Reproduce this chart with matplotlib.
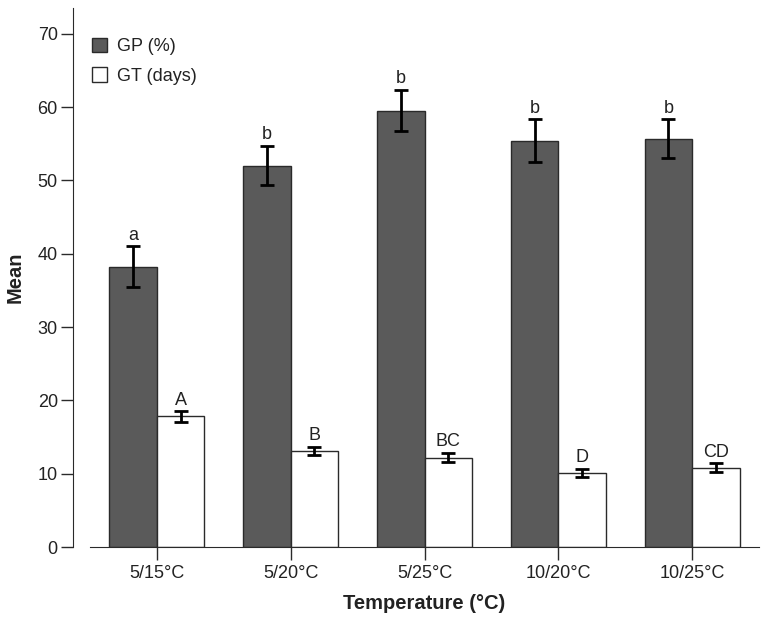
import matplotlib
matplotlib.use('Agg')
from matplotlib import pyplot as plt
from matplotlib.patches import Patch
import numpy as np

plt.rcParams['font.family'] = ['Liberation Sans', 'DejaVu Sans']

temps = ['5/15°C', '5/20°C', '5/25°C', '10/20°C', '10/25°C']
gp = [38.2, 52.0, 59.5, 55.4, 55.7]
gp_err = [2.8, 2.7, 2.8, 2.9, 2.6]
gt = [17.8, 13.1, 12.2, 10.1, 10.8]
gt_err = [0.7, 0.6, 0.6, 0.5, 0.6]
gp_letters = ['a', 'b', 'b', 'b', 'b']
gt_letters = ['A', 'B', 'BC', 'D', 'CD']

dark = '#5a5a5a'
edge = '#2a2a2a'
txt = '#222222'

fig = plt.figure(figsize=(7.67, 6.26), dpi=100)
ax = fig.add_axes([90/767, 79/626, 669/767, 539/626])

x = np.arange(len(temps))
w = 0.355
ax.bar(x - w/2, gp, w, color=dark, edgecolor=edge, linewidth=1, zorder=2)
ax.bar(x + w/2, gt, w, color='white', edgecolor=edge, linewidth=1, zorder=2)
ax.errorbar(x - w/2, gp, yerr=gp_err, fmt='none', ecolor='black',
            elinewidth=2, capsize=4.7, capthick=2, zorder=3)
ax.errorbar(x + w/2, gt, yerr=gt_err, fmt='none', ecolor='black',
            elinewidth=2, capsize=4.7, capthick=2, zorder=3)

for i in range(len(temps)):
    ax.annotate(gp_letters[i], (x[i] - w/2, gp[i] + gp_err[i]), xytext=(0, 2),
                textcoords='offset points', ha='center', va='bottom',
                fontsize=13, color=txt)
    ax.annotate(gt_letters[i], (x[i] + w/2, gt[i] + gt_err[i]), xytext=(0, 2),
                textcoords='offset points', ha='center', va='bottom',
                fontsize=13, color=txt)

ax.set_xlim(-0.5, 4.5)
ax.set_ylim(0, 73.5)
ax.set_xticks(x)
ax.set_xticklabels(temps)
ax.set_yticks(range(0, 71, 10))

for s in ['top', 'right']:
    ax.spines[s].set_visible(False)
ax.spines['left'].set_position(('outward', 12.2))
ax.spines['left'].set_color(edge)
ax.spines['bottom'].set_color(edge)
ax.tick_params(axis='both', direction='out', length=9, width=1, color=edge,
               labelsize=13, labelcolor=txt)
ax.tick_params(axis='x', pad=4)
ax.tick_params(axis='y', pad=2)

ax.set_xlabel('Temperature (°C)', fontsize=14.5, fontweight='bold', color=txt)
ax.set_ylabel('Mean', fontsize=14.5, fontweight='bold', color=txt)
ax.xaxis.set_label_coords(0.5, -0.087)
ax.yaxis.set_label_coords(-0.097, 0.5)

handles = [Patch(facecolor=dark, edgecolor=edge, label='GP (%)'),
           Patch(facecolor='white', edgecolor=edge, label='GT (days)')]
ax.legend(handles=handles, loc='upper left', bbox_to_anchor=(92/767, 588/626),
          bbox_transform=fig.transFigure, borderaxespad=0, borderpad=0,
          frameon=False, fontsize=13, handlelength=0.85, handleheight=0.85,
          handletextpad=0.55, labelspacing=0.65, labelcolor=txt)

plt.savefig('out.png', dpi=100)
